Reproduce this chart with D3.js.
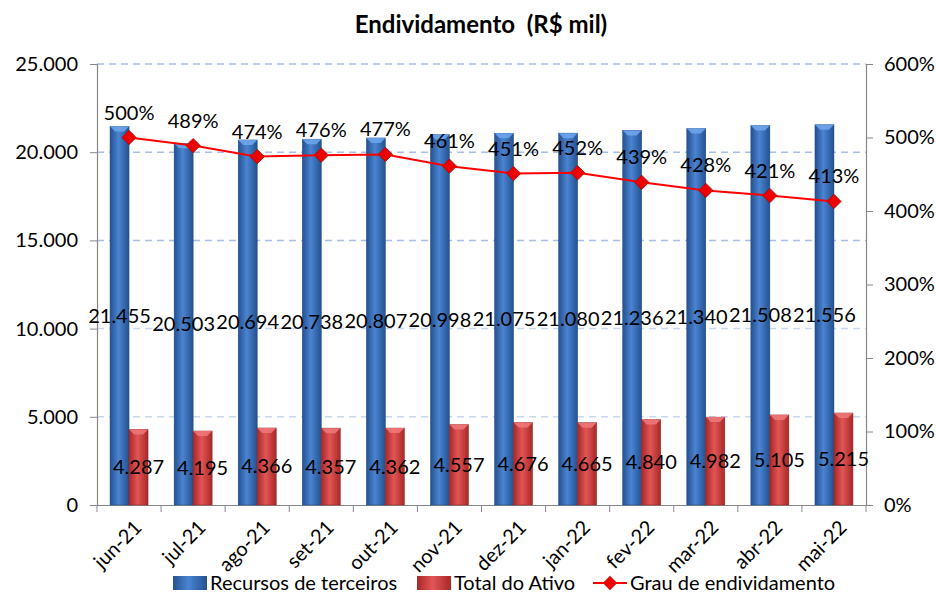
<!DOCTYPE html>
<html>
<head>
<meta charset="utf-8">
<script src="https://cdn.jsdelivr.net/npm/d3@7"></script>
<style>
  body { margin: 0; background: #fff; }
  text { font-family: Lato, "Open Sans", sans-serif; fill: #000; }
</style>
</head>
<body>
<div id="chart"></div>
<script>
const months = ["jun-21", "jul-21", "ago-21", "set-21", "out-21", "nov-21", "dez-21", "jan-22", "fev-22", "mar-22", "abr-22", "mai-22"];
const recursos = [21455, 20503, 20694, 20738, 20807, 20998, 21075, 21080, 21236, 21340, 21508, 21556];
const ativo = [4287, 4195, 4366, 4357, 4362, 4557, 4676, 4665, 4840, 4982, 5105, 5215];
const grau = [500, 489, 474, 476, 477, 461, 451, 452, 439, 428, 421, 413];
const leftTicks = [0, 5000, 10000, 15000, 20000, 25000];
const rightTicks = [0, 100, 200, 300, 400, 500, 600];

const width = 936, height = 594;
const margin = { top: 64, bottom: 89, left: 97, right: 70 };
const fs = "20px";

const data = months.map((m, i) => ({ month: m, rec: recursos[i], ativo: ativo[i], grau: grau[i] }));

const svg = d3.select("#chart")
  .append("svg")
  .attr("width", width)
  .attr("height", height);

// --- gradients for the bevelled bars ---
const defs = svg.append("defs");
function barGradient(id, edge, mid) {
  const g = defs.append("linearGradient").attr("id", id)
    .attr("x1", "0%").attr("x2", "100%").attr("y1", "0%").attr("y2", "0%");
  g.append("stop").attr("offset", "0%").attr("stop-color", edge);
  g.append("stop").attr("offset", "45%").attr("stop-color", mid);
  g.append("stop").attr("offset", "100%").attr("stop-color", edge);
}
barGradient("gBlue", "#24518f", "#4a84d2");
barGradient("gRed", "#a82828", "#e25555");

// --- SCALES ---
const x0 = d3.scaleBand()
  .domain(months)
  .range([margin.left, width - margin.right]);

const x1 = d3.scaleBand()
  .domain(["rec", "ativo"])
  .range([x0.bandwidth() / 2 - 19, x0.bandwidth() / 2 + 19]);

const y = d3.scaleLinear()
  .domain([0, 25000])
  .range([height - margin.bottom, margin.top]);

const y2 = d3.scaleLinear()
  .domain([0, 600])
  .range([height - margin.bottom, margin.top]);

// --- GRIDLINES ---
svg.append("g")
  .selectAll("line")
  .data(leftTicks.filter(d => d > 0))
  .enter()
  .append("line")
  .attr("x1", margin.left)
  .attr("x2", width - margin.right)
  .attr("y1", d => y(d))
  .attr("y2", d => y(d))
  .attr("stroke", d => d >= 15000 ? "#a9bfe6" : "#c9d7f0")
  .attr("stroke-width", 1.5)
  .attr("stroke-dasharray", "7,5");

// --- AXES ---
const fmt = d3.formatLocale({ decimal: ",", thousands: ".", grouping: [3], currency: ["R$", ""] }).format(",d");

const axL = svg.append("g")
  .attr("transform", `translate(${margin.left},0)`)
  .call(d3.axisLeft(y).tickValues(leftTicks).tickFormat(fmt).tickSize(7).tickPadding(12));
axL.selectAll("text").style("font-size", fs);

const axR = svg.append("g")
  .attr("transform", `translate(${width - margin.right},0)`)
  .call(d3.axisRight(y2).tickValues(rightTicks).tickFormat(d => d + "%").tickSize(7).tickPadding(11));
axR.selectAll("text").style("font-size", fs);

const axB = svg.append("g")
  .attr("transform", `translate(0,${height - margin.bottom})`)
  .call(d3.axisBottom(x0).tickSize(7).tickSizeOuter(0).tickFormat(""));
// ticks at band edges instead of centres
axB.selectAll(".tick").remove();
axB.selectAll("line.edge")
  .data(months.concat(["end"]))
  .enter()
  .append("line")
  .attr("x1", (d, i) => margin.left + i * x0.bandwidth())
  .attr("x2", (d, i) => margin.left + i * x0.bandwidth())
  .attr("y1", 0)
  .attr("y2", 7)
  .attr("stroke", "#888");

svg.selectAll(".domain").attr("stroke", "#888").attr("stroke-width", 1.2);
svg.selectAll(".tick line").attr("stroke", "#888");

// x labels rotated
svg.append("g")
  .selectAll("text")
  .data(months)
  .enter()
  .append("text")
  .attr("transform", d => `translate(${x0(d) + x0.bandwidth() / 2 + 4},${height - margin.bottom + 14}) rotate(-45)`)
  .attr("text-anchor", "end")
  .attr("dy", "0.7em")
  .style("font-size", fs)
  .text(d => d);

// --- BARS ---
const groups = svg.selectAll(".group")
  .data(data)
  .enter()
  .append("g")
  .attr("class", "group")
  .attr("transform", d => `translate(${x0(d.month)},0)`);

const series = [
  { key: "rec", fill: "url(#gBlue)", cap: "#6fa8ee", stroke: "#1f4a85" },
  { key: "ativo", fill: "url(#gRed)", cap: "#f07a7a", stroke: "#8f2020" }
];

series.forEach(s => {
  groups.append("rect")
    .attr("x", x1(s.key))
    .attr("y", d => y(d[s.key]))
    .attr("width", x1.bandwidth())
    .attr("height", d => y(0) - y(d[s.key]))
    .attr("fill", s.fill)
    .attr("stroke", s.stroke)
    .attr("stroke-width", 0.5);
  // bevel cap on top
  groups.append("path")
    .attr("d", d => {
      const xa = x1(s.key), w = x1.bandwidth(), yt = y(d[s.key]);
      return `M${xa},${yt} L${xa + w},${yt} L${xa + w - 5},${yt + 5} L${xa + 5},${yt + 5} Z`;
    })
    .attr("fill", s.cap)
    .attr("opacity", 0.85);
});

// bar value labels, centred in each bar
groups.append("text")
  .attr("x", x1("rec") + x1.bandwidth() / 2)
  .attr("y", d => (y(d.rec) + y(0)) / 2)
  .attr("dy", "0.35em")
  .attr("text-anchor", "middle")
  .style("font-size", fs)
  .text(d => fmt(d.rec));

groups.append("text")
  .attr("x", x1("ativo") + x1.bandwidth() / 2)
  .attr("y", d => (y(d.ativo) + y(0)) / 2)
  .attr("dy", "0.35em")
  .attr("text-anchor", "middle")
  .style("font-size", fs)
  .text(d => fmt(d.ativo));

// --- LINE ---
const cx = d => x0(d.month) + x0.bandwidth() / 2;
const line = d3.line().x(cx).y(d => y2(d.grau));

svg.append("path")
  .datum(data)
  .attr("d", line)
  .attr("fill", "none")
  .attr("stroke", "#ff0000")
  .attr("stroke-width", 2);

const diamond = d3.symbol().type(d3.symbolDiamond2).size(130);
svg.append("g")
  .selectAll("path")
  .data(data)
  .enter()
  .append("path")
  .attr("d", diamond)
  .attr("transform", d => `translate(${cx(d)},${y2(d.grau)})`)
  .attr("fill", "#ee0000")
  .attr("stroke", "#b00000")
  .attr("stroke-width", 0.8);

svg.append("g")
  .selectAll("text")
  .data(data)
  .enter()
  .append("text")
  .attr("x", cx)
  .attr("y", d => y2(d.grau) - 25)
  .attr("dy", "0.35em")
  .attr("text-anchor", "middle")
  .style("font-size", fs)
  .text(d => d.grau + "%");

// --- TITLE ---
svg.append("text")
  .attr("x", 481)
  .attr("y", 25)
  .attr("dy", "0.35em")
  .attr("text-anchor", "middle")
  .style("font-size", "24px")
  .style("font-weight", "bold")
  .attr("xml:space", "preserve")
  .text("Endividamento  (R$ mil)");

// --- LEGEND ---
const legend = svg.append("g").attr("transform", "translate(0,583)");
const legendItems = [
  { x: 173, label: "Recursos de terceiros", fill: "url(#gBlue)", type: "bar" },
  { x: 417, label: "Total do Ativo", fill: "url(#gRed)", type: "bar" },
  { x: 593, label: "Grau de endividamento", fill: "#ee0000", type: "line" }
];
legendItems.forEach(item => {
  if (item.type === "bar") {
    legend.append("rect")
      .attr("x", item.x).attr("y", -7)
      .attr("width", 34).attr("height", 14)
      .attr("fill", item.fill);
  } else {
    legend.append("line")
      .attr("x1", item.x).attr("x2", item.x + 34)
      .attr("y1", 0).attr("y2", 0)
      .attr("stroke", "#ff0000").attr("stroke-width", 2);
    legend.append("path")
      .attr("d", diamond)
      .attr("transform", `translate(${item.x + 17},0)`)
      .attr("fill", "#ee0000");
  }
  legend.append("text")
    .attr("x", item.x + 37)
    .attr("y", 0)
    .attr("dy", "0.35em")
    .style("font-size", fs)
    .text(item.label);
});
</script>
</body>
</html>
